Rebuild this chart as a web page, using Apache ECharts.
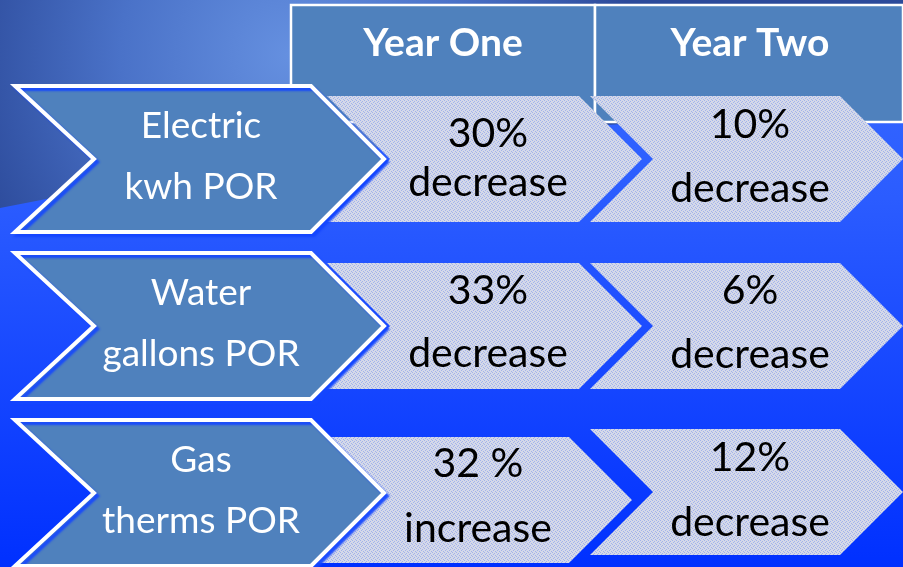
<!DOCTYPE html>
<html>
<head>
<meta charset="utf-8">
<script src="https://cdn.jsdelivr.net/npm/echarts@6/dist/echarts.min.js"></script>
<style>
  html, body { margin: 0; padding: 0; }
  #chart { width: 903px; height: 567px; }
</style>
</head>
<body>
<div id="chart"></div>
<script>
// table content
const rows = ['Electric\nkwh POR', 'Water\ngallons POR', 'Gas\ntherms POR'];
const columns = ['Year One', 'Year Two'];
const yearOne = ['30%\ndecrease', '33%\ndecrease', '32 %\nincrease'];
const yearTwo = ['10%\ndecrease', '6%\ndecrease', '12%\ndecrease'];

const FONT = 'Lato, "Liberation Sans", sans-serif';

// layout (axis units = px, x axis runs 0..903)
const headerCols = [[291, 595], [595, 903]];
const labelShape = { left: 15, right: 311, tip: 384, notch: 94, half: 73, textX: 201, textDy: -2.5 };
const cellShape = [
  { left: 327, right: 579, tip: 642, half: 63, textX: 488, dx: [0, 0, -10], dy: [0, 0, 7],
    lh: [49, 63, 65], textDy: [-0.5, -3.5, -3.5] },
  { left: 590, right: 840, tip: 903, half: 63, textX: 750, dx: [0, 0, 0], dy: [0, 0, -1],
    lh: [64, 64, 65], textDy: [-2, -3.5, -1.5] }
];

// dotted texture for the value chevrons
const tex = document.createElement('canvas');
tex.width = 4; tex.height = 4;
const tc = tex.getContext('2d');
tc.fillStyle = '#d5d9e8'; tc.fillRect(0, 0, 4, 4);
tc.fillStyle = '#a2b2ec';
[[0, 0], [2, 1], [1, 2], [3, 3]].forEach(p => tc.fillRect(p[0], p[1], 1, 1));
const texFill = { image: tex, repeat: 'repeat' };

// upper darker band of the slide background, curved lower edge
const topBand = [[0, 0], [903, 0]];
for (let k = 0; k <= 20; k++) {
  const t = k / 20;
  const px = (1 - t) * (1 - t) * 903 + 2 * t * (1 - t) * 450;
  const py = (1 - t) * (1 - t) * 112 + 2 * t * (1 - t) * 118 + t * t * 208;
  topBand.push([px, py]);
}

function chevron(l, r, tip, notch, top, bot) {
  const mid = (top + bot) / 2;
  return [[l, top], [r, top], [tip, mid], [r, bot], [l, bot], [notch, mid]];
}

function renderHeader(params, api) {
  const c = api.value(0);
  const x0 = api.coord([headerCols[c][0], 0])[0];
  const x1 = api.coord([headerCols[c][1], 0])[0];
  return {
    type: 'group',
    children: [
      { type: 'rect', shape: { x: x0, y: 5, width: x1 - x0, height: 117 },
        style: { fill: '#4f81bd', stroke: '#fff', lineWidth: 2.5 } },
      { type: 'text', style: { text: columns[c], x: (x0 + x1) / 2 + (c === 0 ? 0 : 1), y: 43,
        fill: '#fff', fontFamily: FONT, fontWeight: 'bold', fontSize: 39,
        align: 'center', verticalAlign: 'middle' } }
    ]
  };
}

function renderCell(col, texts) {
  const s = cellShape[col];
  return function (params, api) {
    const i = api.value(1);
    const cy = api.coord([0, i])[1] + s.dy[i];
    const x = v => api.coord([v + s.dx[i], i])[0];
    const depth = s.tip - s.right;
    return {
      type: 'group',
      children: [
        { type: 'polygon',
          shape: { points: chevron(x(s.left), x(s.right), x(s.tip), x(s.left + depth), cy - s.half, cy + s.half) },
          style: { fill: texFill } },
        { type: 'text', style: { text: texts[i], x: x(s.textX), y: cy + s.textDy[i],
          fill: '#000', fontFamily: FONT, fontSize: 41, lineHeight: s.lh[i],
          align: 'center', verticalAlign: 'middle' } }
      ]
    };
  };
}

function renderLabel(params, api) {
  const i = api.value(1);
  const cy = api.coord([0, i])[1];
  const x = v => api.coord([v, i])[0];
  const s = labelShape;
  return {
    type: 'group',
    children: [
      { type: 'polygon',
        shape: { points: chevron(x(s.left), x(s.right), x(s.tip), x(s.notch), cy - s.half, cy + s.half) },
        style: { fill: '#4f81bd', stroke: '#fff', lineWidth: 4, lineJoin: 'miter',
          shadowColor: 'rgba(20,70,255,0.9)', shadowBlur: 2, shadowOffsetX: 3, shadowOffsetY: 3 } },
      { type: 'text', style: { text: rows[i], x: x(s.textX), y: cy + s.textDy,
        fill: '#fff', fontFamily: FONT, fontSize: 37, lineHeight: 61,
        align: 'center', verticalAlign: 'middle' } }
    ]
  };
}

const chart = echarts.init(document.getElementById('chart'));
chart.setOption({
  animation: false,
  backgroundColor: '#0033ff',
  graphic: [
    { type: 'rect', z: 0, silent: true, shape: { x: 0, y: 0, width: 903, height: 567 },
      style: { fill: {
        type: 'linear', x: 0, y: 0, x2: 0, y2: 1,
        colorStops: [{ offset: 0, color: '#3a6cff' }, { offset: 0.35, color: '#2b5cff' }, { offset: 1, color: '#0030ff' }]
      } } },
    { type: 'polygon', z: 0, silent: true,
      shape: { points: topBand },
      style: { fill: {
        type: 'radial', x: 290, y: 55, r: 340, global: true,
        colorStops: [{ offset: 0, color: '#6590e0' }, { offset: 0.5, color: '#4a72c8' }, { offset: 1, color: '#2c4a9a' }]
      } } }
  ],
  // row centres sit at y = 159, 326, 493
  grid: { left: 0, top: 159, width: 903, height: 334 },
  xAxis: { type: 'value', min: 0, max: 903, show: false },
  yAxis: { type: 'category', data: rows, inverse: true, boundaryGap: false, show: false },
  series: [
    { type: 'custom', z: 2, renderItem: renderHeader, data: columns.map((c, j) => [j, 0]), clip: false },
    { type: 'custom', z: 3, renderItem: renderCell(1, yearTwo), data: yearTwo.map((v, i) => [0, i]), clip: false },
    { type: 'custom', z: 4, renderItem: renderCell(0, yearOne), data: yearOne.map((v, i) => [0, i]), clip: false },
    { type: 'custom', z: 5, renderItem: renderLabel, data: rows.map((v, i) => [0, i]), clip: false }
  ]
});
</script>
</body>
</html>
